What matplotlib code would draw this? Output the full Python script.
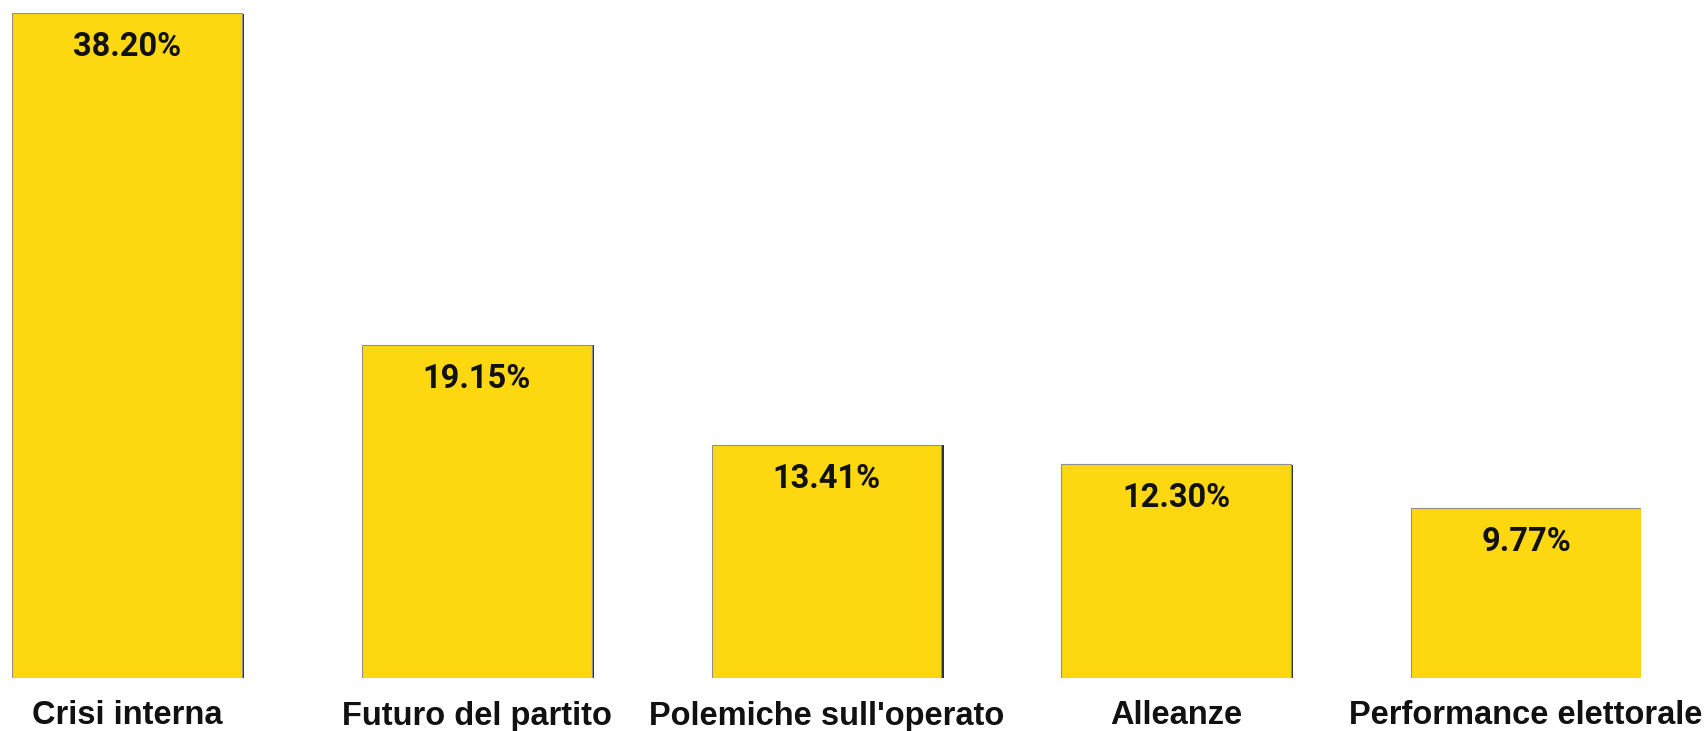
import matplotlib
matplotlib.use("Agg")
import matplotlib.pyplot as plt
import matplotlib.patheffects as pe

categories = ["Crisi interna", "Futuro del partito", "Polemiche sull'operato", "Alleanze", "Performance elettorale"]
values = [38.20, 19.15, 13.41, 12.30, 9.77]
value_labels = ["38.20%", "19.15%", "13.41%", "12.30%", "9.77%"]

W, H = 1708, 731
fig = plt.figure(figsize=(W / 100, H / 100), dpi=100)
ax = fig.add_axes([12 / W, 53 / H, (1641 - 12) / W, 665 / H])

bar_w = 0.657
bars = ax.bar(range(len(categories)), values, width=bar_w, color="#FDD710",
              edgecolor="#909090", linewidth=0.8)
for b in bars:
    b.set_path_effects([pe.SimplePatchShadow(offset=(1.6, -0.6), shadow_rgbFace="#1a1a1a", alpha=0.9), pe.Normal()])

ax.set_xlim(-bar_w / 2, len(categories) - 1 + bar_w / 2)
ax.set_ylim(0, 38.2)
ax.axis("off")

for i, (v, lab) in enumerate(zip(values, value_labels)):
    ax.annotate(lab, xy=(i, v), xytext=(0, -34 * 72 / 100), textcoords="offset points",
                ha="center", va="center", fontsize=23.5, fontweight="bold",
                family="Roboto", color="#111111")

for i, c in enumerate(categories):
    ax.annotate(c, xy=(i, 0), xycoords=("data", "axes fraction"), xytext=(0, -38 * 72 / 100),
                textcoords="offset points", ha="center", va="center", fontsize=23.5,
                fontweight="bold", family="Liberation Sans", color="#111111",
                annotation_clip=False)

fig.savefig("out.png", dpi=100, facecolor="white")
